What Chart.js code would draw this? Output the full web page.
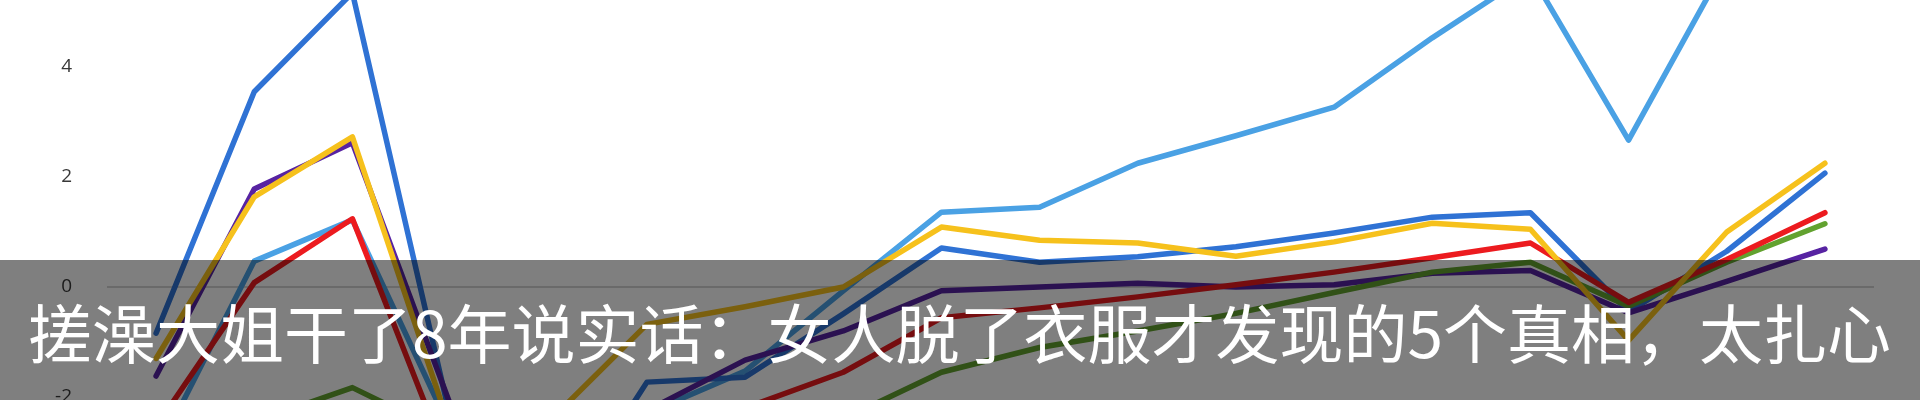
<!DOCTYPE html>
<html><head><meta charset="utf-8">
<script src="https://cdn.jsdelivr.net/npm/chart.js@4.4.0/dist/chart.umd.min.js"></script>
<style>
html,body{margin:0;padding:0;background:#fff;overflow:hidden;}
#wrap{position:relative;width:1920px;height:400px;}
#c{position:absolute;left:0;top:0;}
#banner{position:absolute;left:0;top:260px;width:1920px;height:140px;background:rgba(0,0,0,0.5);color:#fff;font-family:"Noto Sans CJK SC","Noto Sans CJK JP",sans-serif;font-size:64px;line-height:140px;white-space:nowrap;padding-left:28px;box-sizing:border-box;}
</style></head><body>
<div id="wrap"><canvas id="c" width="1920" height="400"></canvas><div id="banner">搓澡大姐干了8年说实话：女人脱了衣服才发现的5个真相，太扎心</div></div>
<script>
const categories = ['1','2','3','4','5','6','7','8','9','10','11','12','13','14','15','16','17','18'];
const yTickValues = [-2, 0, 2, 4];
const yellowSeries = [-1.3, 1.64, 2.73, -2.6, -2.45, -0.68, -0.36, 0.0, 1.09, 0.85, 0.8, 0.56, 0.82, 1.16, 1.05, -0.97, 1.0, 2.25];
const redSeries    = [-2.54, 0.08, 1.24, -3.3, -3.3, -2.8, -2.2, -1.55, -0.56, -0.38, -0.18, 0.04, 0.27, 0.53, 0.8, -0.28, 0.5, 1.35];
const greenSeries  = [-3.4, -2.45, -1.83, -2.7, -3.2, -3.0, -2.8, -2.4, -1.55, -1.1, -0.8, -0.48, -0.1, 0.27, 0.45, -0.35, 0.45, 1.15];
const purpleSeries = [-1.62, 1.78, 2.62, -2.15, -2.6, -2.25, -1.33, -0.8, -0.07, 0.0, 0.07, 0.0, 0.04, 0.25, 0.3, -0.47, 0.1, 0.69];
const blueSeries   = [-0.84, 3.55, 5.35, -2.4, -4.5, -1.73, -1.64, -0.49, 0.71, 0.45, 0.55, 0.73, 0.98, 1.27, 1.35, -0.45, 0.65, 2.07];
const skySeries    = [-3.05, 0.47, 1.22, -2.6, -3.3, -2.3, -1.53, -0.07, 1.36, 1.45, 2.25, 2.75, 3.27, 4.53, 5.7, 2.67, 5.9, 6.6];

function ds(label, data, color){
  return {label, data, borderColor: color, backgroundColor: color, borderWidth: 5.5,
    pointRadius: 0, tension: 0, fill: false, borderJoinStyle: 'round', borderCapStyle: 'round'};
}

new Chart(document.getElementById('c'), {
  type: 'line',
  data: {
    labels: categories,
    datasets: [
      ds('yellow', yellowSeries, '#f6c11c'),
      ds('red', redSeries, '#ec1b1f'),
      ds('green', greenSeries, '#62a22f'),
      ds('purple', purpleSeries, '#5723a2'),
      ds('blue', blueSeries, '#2f72d4'),
      ds('sky', skySeries, '#4aa1e4')
    ]
  },
  options: {
    responsive: false,
    devicePixelRatio: 1,
    animation: false,
    layout: {padding: {left: 0, right: 46, top: 0, bottom: 0}},
    plugins: {legend: {display: false}, tooltip: {enabled: false}},
    scales: {
      x: {type: 'category', display: false, offset: true},
      y: {
        min: -2.055, max: 5.218,
        afterBuildTicks: s => { s.ticks = yTickValues.map(v => ({value: v})); },
        afterFit: s => { s.width = 107; s.paddingTop = 0; s.paddingBottom = 0; },
        border: {display: false},
        grid: {drawTicks: false,
          color: c => (c.tick && c.tick.value === 0) ? '#d4d4d4' : 'rgba(0,0,0,0)',
          lineWidth: 2},
        ticks: {padding: 35, color: '#383838', font: {family: 'Open Sans', size: 19},
          callback: v => String(v)}
      }
    }
  }
});
</script>
</body></html>
